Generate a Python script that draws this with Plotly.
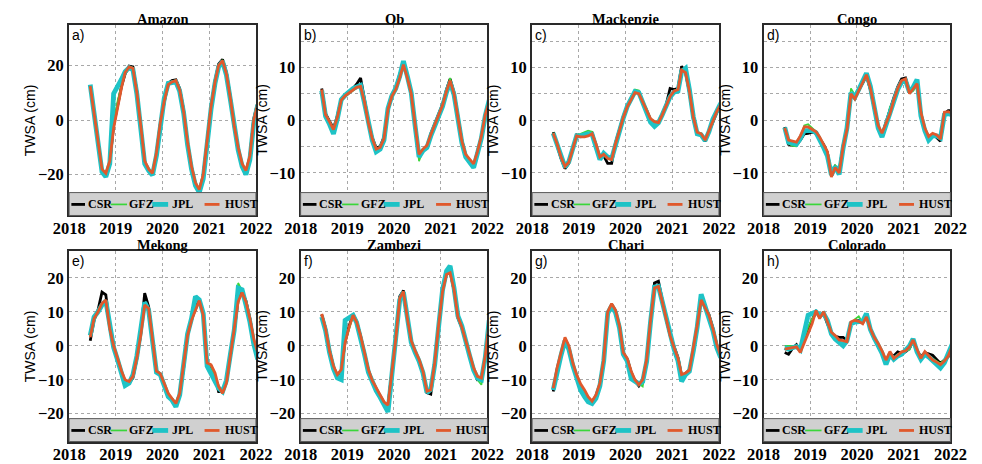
import pandas as pd
import plotly.graph_objects as go

# Monthly GRACE-FO epochs (mid-month), June 2018 - January 2022
months = pd.date_range("2018-06-01", "2022-01-01", freq="MS") + pd.Timedelta(days=14)

basins = ["Amazon", "Ob", "Mackenzie", "Congo", "Mekong", "Zambezi", "Chari", "Colorado"]
panel_tags = ["a)", "b)", "c)", "d)", "e)", "f)", "g)", "h)"]
centers = ["CSR", "GFZ", "JPL", "HUST"]
year_ticks = ["2018", "2019", "2020", "2021", "2022"]

# ---- TWSA (cm) per basin and solution ----
amazon_csr = [12.8, 3.2, -8.3, -18.5, -20, -15.5, -2, 6, 12.5, 17, 19.8, 19.5, 10.5, -2.5, -15.5, -18.5, -20, -12.5, -1.5, 6.5, 13.5, 14.5, 14.8, 11.5, 3.5, -8.5, -17.5, -23.5, -26, -20.5, -7.5, 4.5, 14.5, 20.5, 22.3, 17.5, 8.5, -2.5, -10.5, -16.5, -19, -13.5, 0.5, 6.5]
amazon_gfz = [12.6, 2.8, -8.5, -18.3, -20.2, -15.2, -1, 7, 12.8, 17.3, 19.6, 19.2, 10.2, -2.2, -15.3, -18.2, -19.8, -12.3, -1.2, 6.8, 13.2, 14.2, 14.6, 11.2, 3.2, -8.2, -17.2, -23.3, -25.8, -20.3, -7.2, 4.8, 14.2, 20.3, 22, 17.2, 8.2, -2.3, -10.3, -16.3, -18.8, -13.2, 0.2, 6.2]
amazon_jpl = [13, 2.5, -9, -19, -20.8, -16, 9.7, 12, 15, 17.8, 19.2, 18.5, 9.5, -3, -16, -18.5, -20.2, -13, -1.5, 8, 13.5, 13.8, 14, 10.5, 2.5, -9, -18, -24, -26.5, -21.5, -8, 4, 13.5, 19.5, 21.5, 16.5, 7.5, -3, -11, -17, -20, -14.5, -1, 5.5]
amazon_hust = [12.5, 3, -8, -18, -19.5, -15, -3, 5, 12, 17.5, 19.5, 19, 10, -2, -15, -18, -19.5, -12, -1, 7, 13, 14, 14.5, 11, 3, -8, -17, -23, -25.5, -20, -7, 5, 14, 20, 21.8, 17, 8, -2, -10, -16, -18.5, -13, 0, 6]

ob_csr = [6.0, 1.2, -0.2, -1.6, 0.8, 4.0, 4.8, 5.4, 6.0, 6.8, 8.0, 4.0, -0.3, -3.3, -5.3, -5.0, -3.2, 2.3, 4.8, 6.2, 8.5, 11.0, 8.3, 5.2, -0.8, -6.8, -5.8, -5.3, -2.6, -0.8, 1.2, 3.0, 5.8, 7.8, 5.2, 0.7, -3.8, -6.8, -8.0, -8.8, -6.2, -3.2, 0.8, 3.3]
ob_gfz = [5.7, 0.8, -0.5, -2.0, 0.3, 3.6, 4.5, 5.0, 5.6, 6.0, 6.6, 3.3, -0.7, -3.7, -5.7, -5.4, -3.7, 1.8, 4.3, 5.7, 7.8, 10.8, 8.2, 4.8, -1.3, -7.8, -5.7, -5.0, -3.0, -1.2, 0.8, 2.6, 5.3, 8.0, 5.2, 0.3, -4.3, -7.0, -8.3, -9.0, -6.3, -3.2, 0.7, 3.2]
ob_jpl = [5.6, 0.7, -0.8, -2.6, 0.2, 3.9, 4.7, 5.4, 6.0, 6.3, 6.6, 3.3, -0.8, -3.8, -6.0, -5.5, -3.8, 2.2, 4.6, 6.0, 8.3, 11.2, 8.3, 5.2, -1.2, -7.0, -5.8, -5.2, -3.0, -1.2, 0.8, 2.6, 5.3, 7.2, 4.8, 0.2, -4.3, -7.0, -8.2, -9.0, -6.3, -3.4, 0.8, 3.8]
ob_hust = [5.8, 1.0, -0.3, -1.8, 0.5, 3.8, 4.6, 5.2, 5.7, 6.2, 6.4, 3.5, -0.5, -3.5, -5.5, -5.2, -3.5, 2.0, 4.5, 5.8, 8.0, 10.5, 8.0, 5.0, -1.0, -6.5, -5.5, -4.8, -2.8, -1.0, 1.0, 2.8, 5.5, 7.5, 5.0, 0.5, -4.0, -6.5, -7.5, -8.3, -6.0, -3.0, 1.0, 3.5]

mackenzie_csr = [-2.3, -4.8, -7.3, -9.2, -8.2, -5.3, -2.8, -3.0, -3.0, -2.6, -2.4, -4.8, -7.2, -6.8, -8.2, -8.2, -4.3, -1.8, 0.7, 2.7, 4.3, 5.5, 5.3, 3.2, 1.8, 0.0, -0.5, -0.3, 1.2, 3.0, 6.0, 5.8, 6.0, 10.2, 9.0, 5.3, 0.2, -2.5, -2.9, -4.0, -2.2, -0.2, 1.4, 2.8]
mackenzie_gfz = [-2.4, -4.4, -6.8, -8.6, -7.8, -5.3, -2.8, -2.6, -2.2, -2.0, -2.2, -4.3, -6.8, -6.2, -7.0, -7.2, -4.3, -1.7, 0.8, 2.8, 4.5, 5.8, 5.6, 3.7, 2.2, 0.2, -0.2, -0.4, 1.2, 3.0, 4.7, 5.6, 5.6, 9.0, 9.2, 5.8, 0.8, -2.2, -2.5, -3.6, -1.8, 0.2, 1.8, 3.2]
mackenzie_jpl = [-2.5, -4.6, -7.2, -8.9, -7.9, -5.4, -3.0, -3.0, -2.7, -2.6, -2.7, -4.8, -7.5, -6.3, -7.0, -7.3, -4.6, -2.1, 0.4, 2.6, 4.2, 5.4, 5.2, 3.3, 1.6, -0.4, -1.2, -0.5, 1.0, 2.7, 4.4, 5.3, 5.5, 9.2, 9.8, 5.8, 0.6, -2.6, -2.8, -3.9, -2.2, 0.2, 1.8, 3.2]
mackenzie_hust = [-2.5, -4.5, -7.0, -8.8, -8.0, -5.5, -3.0, -3.2, -3.2, -3.0, -2.6, -4.5, -7.0, -6.5, -7.3, -7.5, -4.5, -2.0, 0.5, 2.5, 4.0, 5.2, 5.0, 3.5, 2.0, 0.3, -0.3, -0.5, 1.0, 2.8, 4.5, 5.5, 5.8, 9.5, 9.0, 5.5, 0.5, -2.3, -2.6, -3.8, -2.0, 0.0, 1.6, 3.0]

congo_csr = [-1.3, -4.6, -4.8, -4.7, -3.8, -2.6, -2.5, -2.3, -2.5, -3.4, -4.6, -6.2, -10.3, -8.8, -9.6, -4.8, -1.6, 4.6, 4.5, 5.8, 7.0, 8.4, 5.8, 2.2, -1.3, -2.8, -0.3, 1.8, 4.2, 6.3, 7.8, 8.0, 5.2, 6.2, 6.6, 1.2, -1.8, -3.3, -2.7, -3.3, -4.0, 1.2, 1.8, 1.8]
congo_gfz = [-1.6, -4.5, -4.9, -5.0, -3.5, -1.0, -0.8, -1.5, -2.2, -3.2, -4.8, -6.3, -10.2, -8.6, -9.5, -4.6, -1.2, 6.0, 4.8, 5.8, 7.0, 8.3, 5.6, 2.0, -1.6, -3.0, -0.8, 2.5, 3.6, 5.5, 7.2, 7.0, 5.2, 5.5, 6.5, 1.0, -1.8, -3.3, -2.8, -3.2, -3.2, 1.0, 1.4, 0.5]
congo_jpl = [-1.4, -4.2, -4.4, -4.6, -3.5, -2.0, -2.0, -2.0, -2.4, -3.6, -5.2, -6.8, -10.4, -8.8, -10.3, -5.3, -1.5, 5.2, 4.3, 5.8, 7.5, 8.9, 6.4, 2.8, -1.5, -3.2, -1.0, 1.0, 3.5, 5.8, 7.2, 7.5, 5.3, 6.2, 7.7, 0.8, -2.0, -3.8, -3.0, -3.0, -3.4, 1.0, 1.2, 1.0]
congo_hust = [-1.5, -3.8, -4.0, -4.2, -3.0, -1.3, -1.3, -1.8, -2.2, -3.2, -4.5, -6.0, -10.8, -9.0, -10.0, -5.0, -1.8, 5.0, 4.0, 5.5, 7.3, 8.6, 6.0, 2.5, -1.0, -2.5, -0.6, 1.2, 3.8, 6.0, 7.5, 7.8, 5.0, 5.8, 6.9, 1.5, -1.5, -3.1, -2.5, -2.8, -3.6, 1.5, 1.6, 1.3]

mekong_csr = [1.5, 7.5, 10.5, 15.8, 15.0, 5.5, -0.5, -4.5, -8.0, -10.5, -11.0, -9.5, -3.8, 3.5, 15.5, 11.5, 1.8, -7.8, -8.5, -11.5, -14.5, -16.0, -17.5, -14.5, -6.5, 3.2, 7.8, 10.8, 13.6, 9.2, -5.2, -6.0, -9.0, -13.5, -13.5, -10.5, -3.2, 4.2, 13.5, 16.0, 13.2, 8.0, 1.5, -2.5]
mekong_gfz = [2.8, 7.6, 9.8, 12.0, 13.0, 5.5, 0.2, -4.0, -8.0, -11.5, -10.8, -9.2, -3.2, 3.5, 12.5, 10.8, 1.8, -7.2, -8.0, -11.2, -14.2, -16.0, -16.5, -13.8, -6.3, 2.8, 7.2, 11.0, 13.0, 8.8, -5.2, -6.2, -9.5, -13.0, -13.5, -10.8, -2.8, 5.0, 18.5, 16.2, 12.5, 7.5, 1.5, -3.0]
mekong_jpl = [3.0, 8.5, 10.0, 12.0, 13.2, 5.2, -0.5, -4.2, -8.5, -11.7, -11.0, -8.5, -3.0, 4.0, 12.8, 10.5, 1.5, -7.8, -8.5, -11.5, -15.0, -16.0, -18.0, -14.5, -6.2, 3.5, 8.0, 14.5, 13.5, 9.5, -6.0, -8.0, -10.5, -12.5, -13.5, -10.2, -2.5, 4.5, 17.0, 16.5, 12.0, 7.0, 0.5, -4.0]
mekong_hust = [2.5, 8, 10, 12.5, 13.5, 5, 0, -3.7, -7.5, -10, -10.5, -9, -3.5, 3, 12, 11, 2, -7.5, -8.2, -11, -14, -15.5, -17, -14, -6, 3, 7.5, 10.5, 13.3, 9, -5, -5.6, -8, -12, -14, -11, -3, 4, 13, 15.7, 13, 8, 2, -2]

zambezi_csr = [9.2, 5.2, -1.3, -6.3, -8.8, -7.3, 1.2, 5.8, 9.2, 7.2, 2.8, -2.2, -7.2, -10.5, -12.8, -14.8, -17.0, -17.8, -8.3, 2.2, 14.5, 16.3, 8.2, 1.2, -1.8, -4.3, -7.8, -13.8, -14.2, -5.3, 6.2, 16.3, 21.5, 21.8, 16.3, 8.2, 5.3, 1.2, -2.8, -6.8, -10.0, -9.8, -3.2, 6.5]
zambezi_gfz = [9.0, 4.8, -1.8, -6.2, -8.7, -7.2, 0.8, 5.2, 8.8, 6.8, 2.7, -2.3, -7.3, -10.4, -12.8, -14.7, -16.8, -18.0, -8.2, 2.2, 14.3, 15.8, 7.8, 1.2, -1.7, -4.3, -7.7, -13.2, -13.3, -5.2, 6.3, 16.3, 21.3, 21.8, 16.2, 8.3, 5.3, 1.2, -2.8, -7.0, -10.0, -11.5, -3.5, 6.8]
zambezi_jpl = [8.5, 4.5, -2.0, -6.8, -9.5, -10.0, 7.5, 8.2, 9.0, 6.8, 2.5, -2.5, -7.8, -10.8, -13.2, -15.2, -17.5, -19.5, -8.8, 1.5, 13.5, 15.8, 8.0, 1.0, -2.0, -4.5, -8.0, -13.8, -12.8, -5.5, 5.5, 16.5, 22.0, 23.5, 17.0, 8.8, 5.8, 1.0, -3.0, -7.2, -9.5, -10.0, -3.5, 7.5]
zambezi_hust = [9.4, 5.0, -1.5, -6.0, -8.5, -7.0, 1.0, 5.5, 9.0, 7.0, 3.0, -2.0, -7.0, -10.2, -12.5, -14.5, -16.5, -17.5, -8.0, 2.0, 14.0, 16.0, 8.0, 1.5, -1.5, -4.0, -7.5, -13.4, -13.0, -5.0, 6.0, 16.0, 21.0, 21.5, 16.5, 8.5, 5.5, 1.5, -2.5, -6.5, -9.0, -9.5, -3.0, 7.0]

chari_csr = [-13.5, -7.0, -2.5, 1.8, -0.5, -5.5, -9.0, -12.5, -13.8, -15.5, -16.5, -14.8, -11.3, -4.3, 9.8, 12.2, 10.2, 5.6, -2.3, -4.0, -7.8, -10.3, -11.8, -10.3, -4.3, 7.2, 18.5, 19.0, 13.3, 7.8, 3.2, -0.3, -3.5, -8.8, -8.3, -7.0, -1.2, 5.8, 13.8, 11.2, 9.2, 5.2, 0.3, -3.2]
chari_gfz = [-12.8, -6.8, -2.3, 1.5, -0.7, -5.3, -8.8, -12.0, -14.0, -15.8, -16.5, -14.8, -11.2, -4.2, 9.7, 12.0, 10.2, 5.8, -2.2, -4.0, -8.0, -10.2, -11.2, -12.0, -4.5, 7.0, 17.5, 17.8, 12.8, 7.3, 2.8, -0.7, -4.0, -9.0, -8.3, -7.3, -1.3, 5.7, 14.0, 11.2, 8.8, 4.8, 0.3, -3.3]
chari_jpl = [-13.0, -7.2, -2.8, 1.5, -1.0, -5.8, -9.5, -13.0, -15.0, -16.5, -17.0, -15.5, -11.8, -4.5, 9.5, 11.8, 9.8, 5.3, -2.5, -4.5, -9.7, -10.5, -11.2, -10.5, -4.6, 7.0, 17.3, 17.5, 12.8, 7.2, 2.5, -1.0, -4.5, -10.5, -8.5, -7.5, -1.5, 5.5, 15.2, 11.5, 9.0, 4.5, -0.5, -3.5]
chari_hust = [-12.5, -6.5, -2.0, 2.5, 0.0, -5.0, -8.5, -11.2, -13.0, -15.0, -16.3, -14.5, -11.0, -4.0, 10.0, 12.4, 10.5, 6.0, -2.0, -3.7, -7.5, -10.0, -11.5, -10.0, -4.0, 7.5, 17.0, 17.5, 13.0, 7.5, 3.0, -0.5, -3.7, -8.5, -8.0, -7.2, -1.0, 6.0, 13.5, 11.0, 9.0, 5.0, 0.5, -3.0]

colorado_csr = [-2.0, -2.5, -0.8, 0.3, -1.5, 2.0, 5.0, 7.5, 10.0, 8.5, 9.5, 6.5, 3.8, 2.8, 2.5, 2.5, 1.5, 6.8, 7.2, 7.5, 6.8, 8.8, 4.8, 2.0, 0.2, -2.0, -5.0, -2.5, -3.0, -1.8, -2.2, -1.8, -0.8, 1.5, -1.5, -3.2, -2.0, -2.5, -2.8, -4.0, -5.2, -4.2, -3.2, -0.5]
colorado_gfz = [0.0, 0.0, 0.2, 0.0, -1.0, 2.5, 5.5, 8.0, 9.8, 8.8, 9.8, 7.2, 3.5, 2.3, 0.8, 0.5, 1.0, 6.5, 7.8, 8.7, 6.8, 9.5, 4.5, 2.2, 0.5, -2.0, -4.0, -2.0, -3.5, -2.5, -2.2, -1.5, -1.2, 1.2, -1.5, -3.5, -2.2, -3.0, -3.8, -4.5, -5.2, -4.0, -2.5, 0.5]
colorado_jpl = [-0.5, -1.0, -0.6, -0.2, -1.2, 4.5, 9.0, 9.5, 10.0, 9.0, 9.5, 7.5, 3.5, 2.0, 1.0, 0.0, 1.5, 6.5, 7.0, 7.0, 7.2, 9.5, 4.8, 2.3, 0.2, -2.2, -5.5, -2.5, -4.0, -3.0, -2.5, -1.2, 0.0, 2.0, -1.8, -4.0, -2.5, -3.3, -4.5, -5.5, -6.5, -5.0, -2.5, 0.5]
colorado_hust = [-1.0, -0.8, -0.5, -0.3, -2.0, 1.0, 4.0, 6.5, 10.4, 8.0, 10.0, 7.0, 4.0, 3.0, 1.7, 1.5, 1.2, 7.0, 7.5, 7.2, 6.5, 8.5, 5.0, 2.5, 0.7, -1.5, -4.2, -1.7, -3.7, -2.8, -1.8, -1.5, -0.3, 1.7, -1.0, -3.7, -1.7, -2.8, -4.2, -4.8, -5.6, -4.5, -3.0, 0.0]

series = {
    "Amazon": [amazon_csr, amazon_gfz, amazon_jpl, amazon_hust],
    "Ob": [ob_csr, ob_gfz, ob_jpl, ob_hust],
    "Mackenzie": [mackenzie_csr, mackenzie_gfz, mackenzie_jpl, mackenzie_hust],
    "Congo": [congo_csr, congo_gfz, congo_jpl, congo_hust],
    "Mekong": [mekong_csr, mekong_gfz, mekong_jpl, mekong_hust],
    "Zambezi": [zambezi_csr, zambezi_gfz, zambezi_jpl, zambezi_hust],
    "Chari": [chari_csr, chari_gfz, chari_jpl, chari_hust],
    "Colorado": [colorado_csr, colorado_gfz, colorado_jpl, colorado_hust],
}

# ---- styling ----
line_colors = {"CSR": "#000000", "GFZ": "#3ad63a", "JPL": "#1ec3c6", "HUST": "#e0592c"}
line_widths = {"CSR": 2.8, "GFZ": 1.7, "JPL": 4.8, "HUST": 2.8}

W, H = 982, 464
panel_w, panel_h = 193.5, 193.3
col_left = [54.0, 293.8, 533.6, 773.4]
row_top = [25.0, 254.0]
y_ranges = [[-35, 35], [-18.1, 18.1], [-18.1, 18.1], [-18.1, 18.1],
            [-28.2, 28.0], [-28.2, 28.0], [-28.2, 28.0], [-28.2, 28.0]]
y_dticks = [20, 10, 10, 10, 10, 10, 10, 10]
y_minor = [None, 5, 5, 5, None, None, None, None]

serif = "Liberation Serif"
sans = "Liberation Sans"
grid_col = "#a8a8a8"
band_frac = 0.12

# legend key layout inside the grey band (fractions of panel width)
key_line_x = [(0.012, 0.085), (0.222, 0.31), (0.445, 0.53), (0.725, 0.805)]
key_text_x = [0.088, 0.312, 0.54, 0.822]
key_y = 0.058

tick_font = dict(family=serif, size=16.5, color="black", weight="bold")

fig = go.Figure()
layout = dict(
    width=W, height=H, margin=dict(l=0, r=0, t=0, b=0),
    paper_bgcolor="white", plot_bgcolor="white", showlegend=False,
)
shapes, annotations = [], []

for k, basin in enumerate(basins):
    r, c = divmod(k, 4)
    idx = "" if k == 0 else str(k + 1)
    x0 = col_left[c] / W
    x1 = (col_left[c] + panel_w) / W
    y1 = 1 - row_top[r] / H
    y0 = 1 - (row_top[r] + panel_h) / H

    for name, vals in zip(centers, series[basin]):
        fig.add_trace(go.Scatter(
            x=months, y=vals, mode="lines", name=name,
            line=dict(color=line_colors[name], width=line_widths[name]),
            xaxis="x" + idx, yaxis="y" + idx, showlegend=False,
        ))

    layout["xaxis" + idx] = dict(
        domain=[x0, x1], anchor="y" + idx, type="date",
        range=["2018-01-01", "2022-01-01"],
        tickvals=[f"{y}-01-01" for y in year_ticks], ticktext=year_ticks,
        showgrid=True, gridcolor=grid_col, griddash="dot", gridwidth=1,
        showline=True, mirror=True, linecolor="#2a2a2a", linewidth=2,
        ticks="", zeroline=False, tickfont=tick_font, ticklabelstandoff=-3,
    )
    yax = dict(
        domain=[y0, y1], anchor="x" + idx, range=y_ranges[k],
        dtick=y_dticks[k], tick0=0,
        showgrid=True, gridcolor=grid_col, griddash="dot", gridwidth=1,
        showline=True, mirror=True, linecolor="#2a2a2a", linewidth=2,
        ticks="", zeroline=False, tickfont=tick_font,
    )
    if y_minor[k]:
        yax["minor"] = dict(dtick=y_minor[k], tick0=0, showgrid=True,
                            gridcolor=grid_col, griddash="dot", gridwidth=1)
    layout["yaxis" + idx] = yax

    xd, yd = "x" + idx + " domain", "y" + idx + " domain"
    # grey legend band along the bottom of each panel
    shapes.append(dict(type="rect", xref=xd, yref=yd, x0=0, x1=1, y0=0, y1=band_frac,
                       fillcolor="#d0d0d0", line=dict(color="#5a5a5a", width=1), layer="above"))
    for j, name in enumerate(centers):
        shapes.append(dict(type="line", xref=xd, yref=yd,
                           x0=key_line_x[j][0], x1=key_line_x[j][1], y0=key_y, y1=key_y,
                           line=dict(color=line_colors[name], width=line_widths[name]),
                           layer="above"))
        annotations.append(dict(text=name, xref=xd, yref=yd, x=key_text_x[j], y=key_y,
                                xanchor="left", yanchor="middle", showarrow=False,
                                font=dict(family=serif, size=12, color="black", weight="bold")))

    # panel title
    annotations.append(dict(text=basin, xref="paper", yref="paper", x=(x0 + x1) / 2, y=y1,
                            xanchor="center", yanchor="middle", yshift=6, showarrow=False,
                            font=dict(family=serif, size=14.5, color="black", weight="bold")))
    # panel tag
    annotations.append(dict(text=panel_tags[k], xref="paper", yref="paper", x=x0, y=y1,
                            xanchor="left", yanchor="middle", xshift=1, yshift=-10,
                            showarrow=False, font=dict(family=sans, size=14, color="black")))
    # y-axis title
    annotations.append(dict(text="TWSA (cm)", xref="paper", yref="paper", x=x0, y=(y0 + y1) / 2,
                            xanchor="center", yanchor="middle", xshift=-39, textangle=-90,
                            showarrow=False, font=dict(family=sans, size=14, color="black")))

layout["shapes"] = shapes
layout["annotations"] = annotations
fig.update_layout(**layout)
fig.write_html("out.html")
